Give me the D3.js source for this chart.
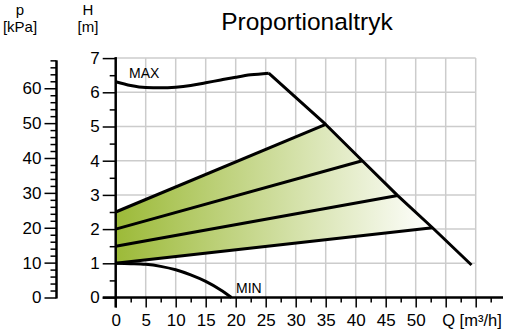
<!DOCTYPE html>
<html><head><meta charset="utf-8">
<script src="https://cdn.jsdelivr.net/npm/d3@7"></script>
<style>body{margin:0;background:#fff}svg{display:block;font-family:"Liberation Sans",Arial,sans-serif}</style>
</head><body><svg id="c" width="506" height="331"></svg>
<script>
const title = "Proportionaltryk";
const qTicks = [0,5,10,15,20,25,30,35,40,45,50];
const qLabel = "Q [m³/h]";
const hTicks = [0,1,2,3,4,5,6,7];
const pTicks = [0,10,20,30,40,50,60];
// MAX curve (Q, H) incl. the straight limit line
const maxQ = [0,2.5,5,7.5,10,12.5,15,17.5,20,22.5,25.5,35,41.1,47,52.8,59.3];
const maxH = [6.31,6.2,6.14,6.13,6.15,6.2,6.28,6.36,6.44,6.51,6.56,5.06,4.0,2.98,2.04,0.95];
// MIN curve
const minQ = [0,2.5,5,7.5,10,12.5,15,17.5,19.3];
const minH = [1.0,0.99,0.97,0.91,0.81,0.66,0.47,0.22,0.0];
// proportional pressure curves
const propStartH = [2.5,2.0,1.5,1.0];
const propEndQ = [35,41.1,47,52.8];
const propEndH = [5.06,4.0,2.98,2.04];

const FONT = "Liberation Sans, Arial, sans-serif";
const svg = d3.select("#c");
const x = d3.scaleLinear().domain([0,60]).range([115.7,475.7]);
const y = d3.scaleLinear().domain([0,7]).range([297.5,58.1]);
const kPaPerM = 9.80665;
const yp = d3.scaleLinear().domain([0,70]).range([y(0), y(70/kPaPerM)]);

// gradient
const defs = svg.append("defs");
const g = defs.append("linearGradient").attr("id","gr").attr("gradientUnits","userSpaceOnUse")
  .attr("x1",x(0)).attr("x2",x(propEndQ[3])).attr("y1",0).attr("y2",0);
g.append("stop").attr("offset",0).attr("stop-color","#9cba38");
g.append("stop").attr("offset",1).attr("stop-color","#ffffff");

// grid
const grid = svg.append("g").attr("stroke","#cccccc").attr("stroke-width",1.5);
d3.range(5,61,5).forEach(q=>grid.append("line").attr("x1",x(q)).attr("x2",x(q)).attr("y1",y(0)).attr("y2",y(7)));
d3.range(1,8).forEach(h=>grid.append("line").attr("x1",x(0)).attr("x2",x(60)).attr("y1",y(h)).attr("y2",y(h)));

// fill polygon
const poly = [[0,propStartH[3]],[propEndQ[3],propEndH[3]],[propEndQ[2],propEndH[2]],[propEndQ[1],propEndH[1]],[propEndQ[0],propEndH[0]],[0,propStartH[0]]];
svg.append("path").attr("d", d3.line().x(d=>x(d[0])).y(d=>y(d[1]))(poly)+"Z").attr("fill","url(#gr)");

const line = d3.line().x(d=>x(d[0])).y(d=>y(d[1]));
const smooth = d3.line().curve(d3.curveMonotoneX).x(d=>x(d[0])).y(d=>y(d[1]));
const curves = svg.append("g").attr("fill","none").attr("stroke","#000").attr("stroke-width",3).attr("stroke-linejoin","round");
curves.append("path").attr("d", smooth(maxQ.slice(0,11).map((q,i)=>[q,maxH[i]])));
curves.append("path").attr("d", line(maxQ.slice(10).map((q,i)=>[q,maxH[i+10]])));
curves.append("path").attr("d", smooth(minQ.map((q,i)=>[q,minH[i]])));
propStartH.forEach((h,i)=>curves.append("path").attr("d", line([[0,h],[propEndQ[i],propEndH[i]]])));

// H axis
const hAx = svg.append("g").attr("transform",`translate(${x(0)},0)`);
hAx.call(d3.axisLeft(y).tickValues(hTicks).tickSize(13).tickPadding(3).tickFormat(d3.format("d")));
hAx.append("g").call(d3.axisLeft(y).tickValues(d3.range(0.5,7,1)).tickSize(6).tickFormat(""));
hAx.selectAll(".domain").remove();
hAx.append("line").attr("x1",0).attr("x2",0).attr("y1",y(7)-1).attr("y2",y(0)+10).attr("stroke","#000").attr("stroke-width",2.5);
// x axis
const xAx = svg.append("g").attr("transform",`translate(0,${y(0)})`);
xAx.call(d3.axisBottom(x).tickValues(qTicks).tickSize(10).tickPadding(6).tickFormat(d3.format("d")));
xAx.append("g").call(d3.axisBottom(x).tickValues([55,60]).tickSize(10).tickFormat(""));
xAx.append("g").call(d3.axisBottom(x).tickValues(d3.range(2.5,65,5)).tickSize(5).tickFormat(""));
xAx.selectAll(".domain").remove();
xAx.append("line").attr("x1",x(0)-13).attr("x2",503).attr("y1",0).attr("y2",0).attr("stroke","#000").attr("stroke-width",2.5);
// p axis
const pAx = svg.append("g").attr("transform","translate(56.5,0)");
pAx.call(d3.axisLeft(yp).tickValues(pTicks).tickSize(12).tickPadding(3).tickFormat(d3.format("d")));
pAx.append("g").call(d3.axisLeft(yp).tickValues(d3.range(2,70,2).filter(v=>v%10)).tickSize(6).tickFormat(""));
pAx.selectAll(".domain").remove();
pAx.append("line").attr("x1",0).attr("x2",0).attr("y1",yp(68)).attr("y2",yp(0)+1).attr("stroke","#000").attr("stroke-width",2.5);

svg.selectAll(".tick line").attr("stroke","#000").attr("stroke-width",1.5);
svg.selectAll(".tick text").attr("font-size",17).attr("fill","#000").attr("font-family",FONT);

svg.append("text").attr("x",472).attr("y",326).attr("text-anchor","middle").attr("font-size",16.5).text(qLabel);

// axis titles
const t = svg.append("g").attr("font-size",15).attr("text-anchor","middle");
t.append("text").attr("x",20).attr("y",15).text("p");
t.append("text").attr("x",20).attr("y",32).text("[kPa]");
t.append("text").attr("x",88).attr("y",15).text("H");
t.append("text").attr("x",88).attr("y",32).text("[m]");

svg.append("text").attr("x",307).attr("y",30).attr("text-anchor","middle").attr("font-size",24.5).text(title);
svg.append("text").attr("x",129).attr("y",78).attr("font-size",14).text("MAX");
svg.append("text").attr("x",236).attr("y",293).attr("font-size",14).text("MIN");
</script></body></html>
